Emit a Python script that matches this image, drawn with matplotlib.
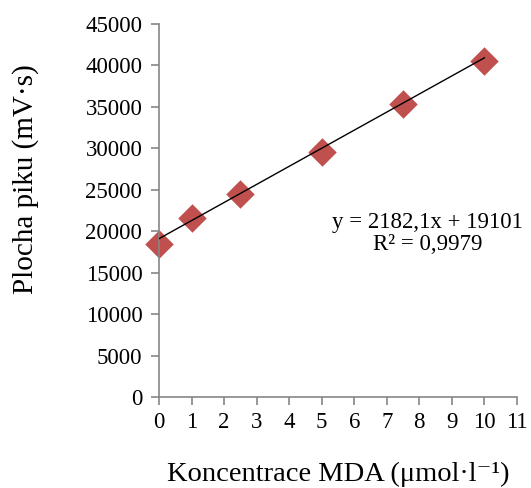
import numpy as np
import matplotlib
matplotlib.use('Agg')
import matplotlib.pyplot as plt

plt.rcParams['font.family'] = ['Liberation Serif', 'DejaVu Serif']

# koncentrace MDA a plocha piku
konc = [0, 1, 2.5, 5, 7.5, 10]
plocha = [18400, 21600, 24500, 29600, 35400, 40500]
slope = 2182.1
intercept = 19101
x_ticks = list(range(0, 12))
y_ticks = list(range(0, 45001, 5000))

fig = plt.figure(figsize=(5.31, 4.88), dpi=100)
ax = fig.add_axes([0.2994, 0.1865, 0.6742, 0.7643])

# trendline
xl = np.array([0, 10])
ax.plot(xl, slope * xl + intercept, color='black', lw=1.0, zorder=3)
ax.scatter(konc, plocha, marker='D', s=210, color='#C0504D', zorder=2,
           linewidths=0, clip_on=False)

ax.set_xlim(0, 11)
ax.set_ylim(0, 45000)
ax.set_xticks(x_ticks)
ax.set_yticks(y_ticks)
ax.tick_params(labelsize=16.5, color='#868686', length=6, width=1.2)
ax.tick_params(axis='x', pad=5)
ax.tick_params(axis='y', pad=6)

for s in ['top', 'right']:
    ax.spines[s].set_visible(False)
for s in ['left', 'bottom']:
    ax.spines[s].set_color('#868686')
    ax.spines[s].set_linewidth(1.2)

ax.set_xlabel('Koncentrace MDA (μmol·l⁻¹)', fontsize=20.5, labelpad=20.5)
ax.set_ylabel('Plocha piku (mV·s)', fontsize=21)
ax.yaxis.set_label_coords(-0.335, 0.585)

ax.text(8.25, 19700, 'y = 2182,1x + 19101\nR² = 0,9979', ha='center', va='center',
        fontsize=16.5, linespacing=1.05)

fig.savefig('out.png', dpi=100)
